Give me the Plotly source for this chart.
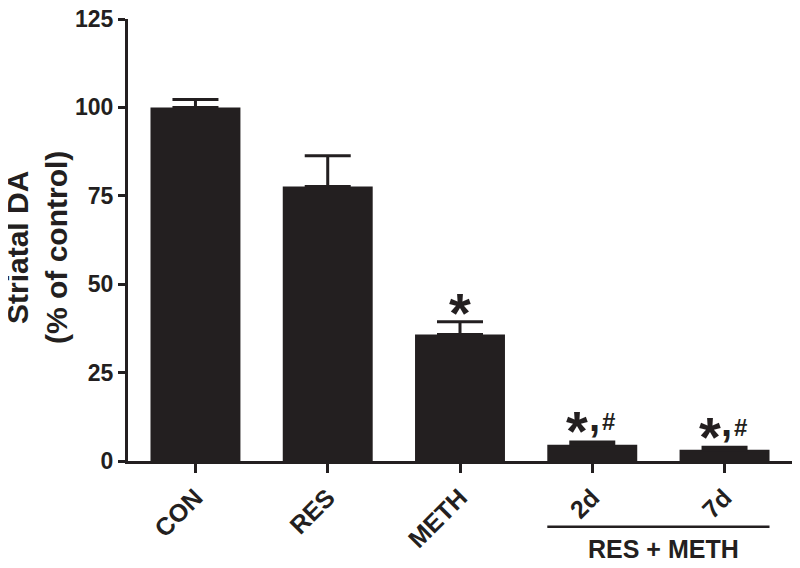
import plotly.graph_objects as go

# groups and values
groups = ['CON', 'RES', 'METH', '2d', '7d']
mean_da = [100, 77.6, 35.8, 4.6, 3.2]
sem_da = [2.2, 8.7, 3.6, 0.8, 0.7]
marks = ['', '', '*', '*,#', '*,#']
y_ticks = [0, 25, 50, 75, 100, 125]

ink = '#231f20'
font_main = 'Arial, Liberation Sans, sans-serif'
bar_w = 0.68

fig = go.Figure()

fig.add_trace(go.Bar(
    x=groups, y=mean_da, width=bar_w,
    marker=dict(color=ink, line=dict(width=0)),
    error_y=dict(type='data', array=sem_da, symmetric=False, arrayminus=[0]*5,
                 color=ink, thickness=3, width=23),
    showlegend=False,
))

# significance marks above the error bars (star, comma and hash placed separately)
for g, m, s, e in zip(groups, mean_da, sem_da, marks):
    if not e:
        continue
    top = m + s
    if e == '*':
        fig.add_annotation(x=g, y=top, text='<b>*</b>', showarrow=False,
                           yanchor='middle', yshift=9,
                           font=dict(family=font_main, size=56, color=ink))
        continue
    fig.add_annotation(x=g, y=top, text='<b>*</b>', showarrow=False,
                       yanchor='middle', yshift=11, xshift=-15,
                       font=dict(family=font_main, size=56, color=ink))
    fig.add_annotation(x=g, y=top, text='<b>,</b>', showarrow=False,
                       yanchor='middle', yshift=25, xshift=2,
                       font=dict(family=font_main, size=40, color=ink))
    fig.add_annotation(x=g, y=top, text='<b>#</b>', showarrow=False,
                       yanchor='middle', yshift=20, xshift=16,
                       font=dict(family=font_main, size=24, color=ink))

# bracket under the RES + METH groups
fig.add_shape(type='line', xref='x', yref='paper',
              x0=3 - bar_w / 2, x1=4 + bar_w / 2, y0=-0.149, y1=-0.149,
              line=dict(color=ink, width=2.5))
fig.add_annotation(x=3.5, xref='x', y=-0.2, yref='paper', text='<b>RES + METH</b>',
                   showarrow=False, yanchor='middle', xshift=5,
                   font=dict(family=font_main, size=25, color=ink))

# y axis title as a rotated annotation (axis title would not move further left)
fig.add_annotation(x=-0.137, xref='paper', y=0.482, yref='paper',
                   text='<b>Striatal DA</b><br><b>(% of control)</b>',
                   textangle=-90, showarrow=False, xanchor='center', yanchor='middle',
                   font=dict(family=font_main, size=30, color=ink))

# page body has an 8px margin, so the figure is 16px smaller than the window
fig.update_layout(
    width=784, height=552,
    margin=dict(l=120, r=0, t=11, b=99, autoexpand=False),
    plot_bgcolor='white', paper_bgcolor='white',
    font=dict(family=font_main, size=20, color=ink),
    bargap=1 - bar_w,
)
fig.update_xaxes(
    range=[-0.51, 4.51], showline=True, linecolor=ink, linewidth=3,
    ticks='outside', ticklen=9, tickwidth=2.5, tickcolor=ink,
    tickangle=-45, tickfont=dict(family=font_main, size=25, color=ink),
    tickvals=groups, ticktext=['<b>%s</b>' % g for g in groups],
    showgrid=False, zeroline=False, automargin=False,
)
fig.update_yaxes(
    range=[0, 125], tickvals=y_ticks, ticktext=['<b>%d</b>' % t for t in y_ticks],
    showline=True, linecolor=ink, linewidth=3,
    ticks='outside', ticklen=7, tickwidth=2.5, tickcolor=ink,
    tickfont=dict(family=font_main, size=23, color=ink),
    ticklabeloverflow='allow',
    showgrid=False, zeroline=False, automargin=False,
)

fig.write_html("out.html")
